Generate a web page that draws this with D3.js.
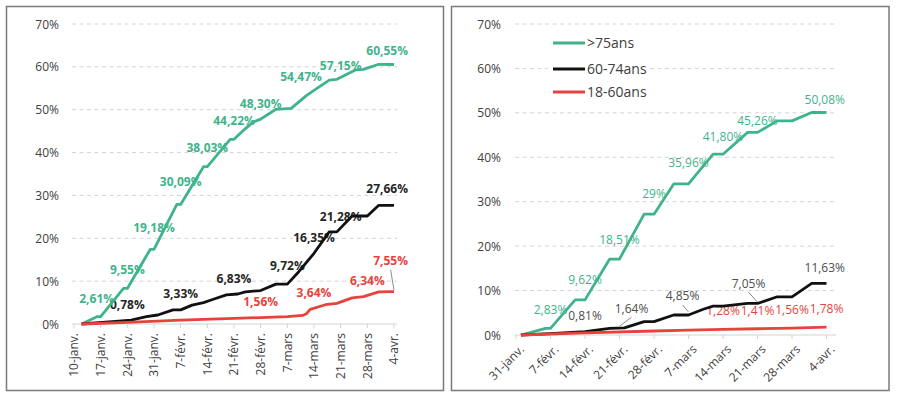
<!DOCTYPE html>
<html>
<head>
<meta charset="utf-8">
<script src="https://cdn.jsdelivr.net/npm/d3@7"></script>
<style>
  body { margin: 0; background: #fff; }
  svg { font-family: "Open Sans", sans-serif; }
</style>
</head>
<body>
<div id="graf"></div>
<script>
// donnees (annee 2021)
const ticksY = [0, 10, 20, 30, 40, 50, 60, 70]
const moisCourts = ["janv.", "févr.", "mars", "avr."]
const categories = [">75ans", "60-74ans", "18-60ans"]

// panneau gauche
const g75Dates = ["01-12","01-16","01-17","01-23","01-24","01-30","01-31","02-06","02-07","02-13","02-14","02-20","02-21","02-24","02-26","02-28","03-04","03-08","03-12","03-14","03-18","03-20","03-25","03-27","03-31","04-04"]
const g75Vals = [0,1.7,1.7,8.3,8.3,17.4,17.4,27.9,27.9,36.7,36.7,43.1,43.1,45.6,47.1,47.8,50.1,50.3,53.3,54.5,56.9,57.1,59.3,59.4,60.6,60.55]
const g6074Dates = ["01-12","01-20","01-25","01-29","02-01","02-05","02-07","02-10","02-13","02-15","02-19","02-22","02-24","02-28","03-04","03-07","03-10","03-14","03-18","03-20","03-24","03-28","03-31","04-04"]
const g6074Vals = [0,0.55,0.9,1.7,2.1,3.3,3.3,4.4,5.0,5.6,6.8,7.0,7.5,7.8,9.3,9.3,12.2,16.5,21.5,21.5,25.2,25.2,27.7,27.66]
const g1860Dates = ["01-12","01-24","02-07","02-21","02-28","03-07","03-11","03-12","03-13","03-17","03-20","03-24","03-27","03-31","04-04"]
const g1860Vals = [0,0.4,0.9,1.3,1.5,1.7,2.0,2.4,3.4,4.5,4.8,6.1,6.4,7.5,7.55]
const g75Etiq = [["01-17",2.61],["01-24",9.55],["01-31",19.18],["02-07",30.09],["02-14",38.03],["02-21",44.22],["02-28",48.30],["03-14",54.47],["03-21",57.15],["04-04",60.55]]
const g6074Etiq = [["01-24",0.78],["02-07",3.33],["02-21",6.83],["03-07",9.72],["03-14",16.35],["03-21",21.28],["04-04",27.66]]
const g1860Etiq = [["02-28",1.56],["03-14",3.64],["03-28",6.34],["04-04",7.55]]

// panneau droit
const d75Dates = ["02-01","02-06","02-07","02-12","02-14","02-19","02-21","02-26","02-28","03-04","03-07","03-12","03-14","03-19","03-21","03-25","03-28","04-01","04-04"]
const d75Vals = [0,1.5,1.5,7.9,7.9,17.1,17.1,27.2,27.2,34.0,34.0,40.7,40.7,45.6,45.6,48.2,48.2,50.1,50.08]
const d6074Dates = ["02-01","02-07","02-14","02-19","02-22","02-26","02-28","03-04","03-07","03-10","03-12","03-14","03-19","03-21","03-25","03-28","04-01","04-04"]
const d6074Vals = [0,0.3,0.75,1.5,1.6,3.0,3.0,4.5,4.5,5.8,6.5,6.5,7.1,7.1,8.6,8.6,11.6,11.63]
const d1860Dates = ["02-01","02-14","02-28","03-07","03-14","03-21","03-28","04-04"]
const d1860Vals = [0,0.5,0.9,1.1,1.28,1.41,1.56,1.78]
const d75Etiq = [["02-07",2.83],["02-14",9.62],["02-21",18.51],["02-28",29],["03-07",35.96],["03-14",41.80],["03-21",45.26],["04-04",50.08]]
const d6074Etiq = [["02-14",0.81],["02-21",1.64],["03-07",4.85],["03-21",7.05],["04-04",11.63]]
const d1860Etiq = [["03-14",1.28],["03-21",1.41],["03-28",1.56],["04-04",1.78]]

const couleurs = ["#3fb38c", "#111111", "#e8423c"]
const parse = (s) => d3.timeParse("%Y-%m-%d")("2021-" + s)
const fmtPct = (v) => (Number.isInteger(v) ? String(v) : d3.format(".2f")(v).replace(".", ",")) + "%"
const fmtDate = (d) => d.getDate() + "-" + moisCourts[d.getMonth()]

// petits deplacements manuels des etiquettes (comme dans Excel)
const decalages = {
  "g2,61%": [-4, 0],
  "g54,47%": [-13, 0],
  "g7,55%": [-2, -15, true],
  "d1,64%": [12, -4, true],
  "d4,85%": [-6, -2, true],
  "d7,05%": [-9, -5, true],
}

const svg = d3.select("#graf").append("svg").attr("width", 898).attr("height", 403)

function dessine(p) {
  svg.append("rect")
    .attr("x", p.cadre[0]).attr("y", p.cadre[1])
    .attr("width", p.cadre[2]).attr("height", p.cadre[3])
    .attr("fill", "#fff").attr("stroke", "#7a7a7a").attr("stroke-width", 1.5)

  const x = d3.scaleTime().domain([parse(p.debut), parse(p.fin)]).range(p.xr)
  const y = d3.scaleLinear().domain([0, 70]).range(p.yr)
  const g = svg.append("g")

  // grille
  g.selectAll(".grille").data(ticksY.slice(1)).join("line")
    .attr("x1", p.grille[0]).attr("x2", p.grille[1])
    .attr("y1", (d) => y(d)).attr("y2", (d) => y(d))
    .attr("stroke", "#d4d4d4").attr("stroke-dasharray", "4,3.5")

  g.selectAll(".ylab").data(ticksY).join("text")
    .attr("x", p.lblX).attr("y", (d) => y(d) + 4.5)
    .attr("text-anchor", "end").attr("font-size", 12).attr("fill", "#404040")
    .text((d) => d + "%")

  // axe des x
  g.append("line")
    .attr("x1", p.grille[0]).attr("x2", p.grille[1])
    .attr("y1", y(0)).attr("y2", y(0))
    .attr("stroke", "#d4d4d4").attr("stroke-width", 1.2)
  const ticks = d3.timeDay.range(parse(p.debut), d3.timeDay.offset(parse(p.fin), 1), 7)
  g.selectAll(".tick").data(ticks).join("line")
    .attr("x1", (d) => x(d)).attr("x2", (d) => x(d))
    .attr("y1", y(0)).attr("y2", y(0) + 4)
    .attr("stroke", "#d4d4d4")
  g.selectAll(".xlab").data(ticks).join("text")
    .attr("transform", (d) => `translate(${x(d) + p.rot[1]}, ${y(0) + p.rot[2]}) rotate(${p.rot[0]})`)
    .attr("dy", "0.35em")
    .attr("text-anchor", "end").attr("font-size", 12).attr("fill", "#404040")
    .text(fmtDate)

  // etiquettes (sous les courbes, comme sur l'original)
  p.series.forEach((s, i) => {
    s.etiq.forEach(([ds, v]) => {
      const txt = fmtPct(v)
      const dec = decalages[p.id + txt] || [0, 0]
      const px = x(parse(ds)), py = y(v)
      const cy = py - s.off + dec[1]
      const t = g.append("text")
        .attr("x", px + dec[0]).attr("y", cy + 4.5)
        .attr("text-anchor", "middle").attr("font-size", 12)
        .attr("font-weight", p.gras ? "bold" : "normal")
        .attr("fill", s.coulEtiq).text(txt)
      const w = t.node().getComputedTextLength()
      if (px + dec[0] + w / 2 > p.plotRight) t.attr("x", p.plotRight - w / 2)
      if (dec[2]) {
        g.append("line")
          .attr("x1", +t.attr("x")).attr("y1", cy + 9)
          .attr("x2", px).attr("y2", py - 1.5)
          .attr("stroke", "#8c8c8c").attr("stroke-width", 1)
      }
    })
  })

  const ligne = d3.line().x((d) => x(d[0])).y((d) => y(d[1]))
  p.series.forEach((s, i) => {
    g.append("path")
      .datum(s.dates.map((d, k) => [parse(d), s.vals[k]]))
      .attr("d", ligne)
      .attr("fill", "none").attr("stroke", couleurs[i])
      .attr("stroke-width", 2.8).attr("stroke-linejoin", "round")
  })
}

dessine({
  id: "g",
  cadre: [6.5, 6.5, 437, 384],
  debut: "01-10", fin: "04-04",
  xr: [74, 394], yr: [324, 24],
  grille: [72, 397], lblX: 59, plotRight: 408,
  rot: [-90, 0, 9], gras: true,
  series: [
    { dates: g75Dates, vals: g75Vals, etiq: g75Etiq, off: 14, coulEtiq: "#3fb38c" },
    { dates: g6074Dates, vals: g6074Vals, etiq: g6074Etiq, off: 16.5, coulEtiq: "#262626" },
    { dates: g1860Dates, vals: g1860Vals, etiq: g1860Etiq, off: 16, coulEtiq: "#e8423c" },
  ],
})

dessine({
  id: "d",
  cadre: [451.5, 6.5, 437.5, 384],
  debut: "01-31", fin: "04-04",
  xr: [516, 826.5], yr: [335, 24],
  grille: [515, 836], lblX: 501, plotRight: 845,
  rot: [-45, 6, 12], gras: false,
  series: [
    { dates: d75Dates, vals: d75Vals, etiq: d75Etiq, off: 13, coulEtiq: "#3fb38c" },
    { dates: d6074Dates, vals: d6074Vals, etiq: d6074Etiq, off: 15.5, coulEtiq: "#4d4d4d" },
    { dates: d1860Dates, vals: d1860Vals, etiq: d1860Etiq, off: 18.7, coulEtiq: "#e8423c" },
  ],
})

// legende du panneau droit
const leg = svg.append("g")
leg.append("rect").attr("x", 548).attr("y", 30).attr("width", 100).attr("height", 72).attr("fill", "#fff")
const legY = [43, 69, 92]
categories.forEach((c, i) => {
  leg.append("line")
    .attr("x1", 553).attr("x2", 585).attr("y1", legY[i]).attr("y2", legY[i])
    .attr("stroke", couleurs[i]).attr("stroke-width", 3)
  leg.append("text")
    .attr("x", 587).attr("y", legY[i] + 5)
    .attr("font-size", 14).attr("fill", "#404040")
    .text(c)
})
</script>
</body>
</html>
